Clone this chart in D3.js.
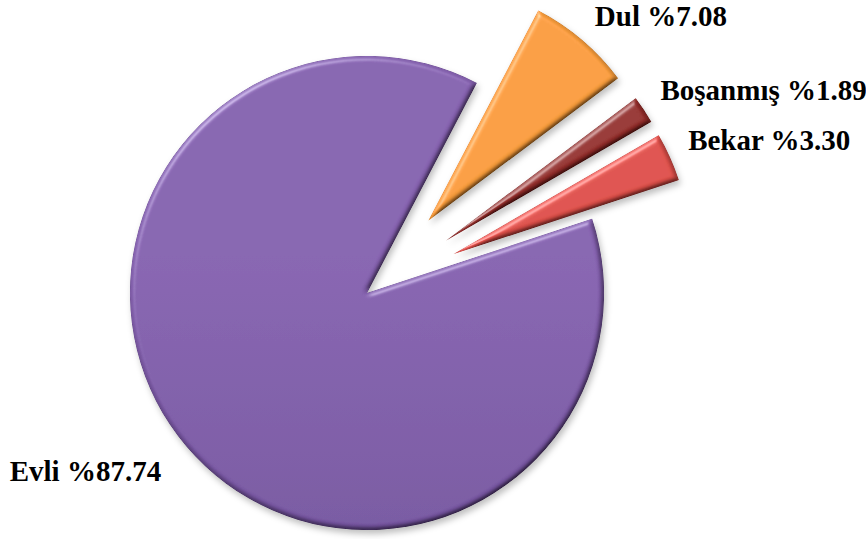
<!DOCTYPE html>
<html>
<head>
<meta charset="utf-8">
<script src="https://cdn.jsdelivr.net/npm/d3@7"></script>
<style>
  body { margin: 0; background: #fff; }
  svg { display: block; }
</style>
</head>
<body>
<svg id="chart" width="866" height="539"></svg>
<script>
// slices in clockwise order, starting from the top edge of the gap
const categories = ['Dul', 'Boşanmış', 'Bekar', 'Evli'];
const values = [7.08, 1.89, 3.30, 87.74];
const labels = ['Dul %7.08', 'Boşanmış %1.89', 'Bekar %3.30', 'Evli %87.74'];
const exploded = [true, true, true, false];

// top / bottom colour of each slice gradient
const topColors = ['#f99d3c', '#952e2b', '#de504a', '#8561af'];
const bottomColors = ['#f08a24', '#7a2321', '#c93e39', '#654790'];

const svg = d3.select('#chart');
const cx = 367;
const cy = 293;
const radius = 237;
const explodeBy = 95;
const startAngle = 27.6 * Math.PI / 180;

const defs = svg.append('defs');

categories.forEach((c, i) => {
  const g = defs.append('linearGradient')
    .attr('id', `grad${i}`)
    .attr('gradientUnits', 'userSpaceOnUse')
    .attr('x1', 0).attr('y1', cy - radius - explodeBy)
    .attr('x2', 0).attr('y2', cy + radius);
  g.append('stop').attr('offset', '0%').attr('stop-color', topColors[i]);
  g.append('stop').attr('offset', '100%').attr('stop-color', bottomColors[i]);
});

// bevel-ish lighting on the slice rims
const bevel = defs.append('filter')
  .attr('id', 'bevel')
  .attr('x', '-10%').attr('y', '-10%')
  .attr('width', '120%').attr('height', '120%');
bevel.append('feGaussianBlur')
  .attr('in', 'SourceAlpha').attr('stdDeviation', 2.5).attr('result', 'blur');
bevel.append('feDiffuseLighting')
  .attr('in', 'blur').attr('surfaceScale', 4).attr('diffuseConstant', 1)
  .attr('lighting-color', '#fff').attr('result', 'diff')
  .append('feDistantLight').attr('azimuth', 235).attr('elevation', 60);
bevel.append('feComposite')
  .attr('in', 'SourceGraphic').attr('in2', 'diff')
  .attr('operator', 'arithmetic')
  .attr('k1', 1.155).attr('k2', 0).attr('k3', 0).attr('k4', 0)
  .attr('result', 'lit');
bevel.append('feSpecularLighting')
  .attr('in', 'blur').attr('surfaceScale', 4).attr('specularConstant', 0.6)
  .attr('specularExponent', 20).attr('lighting-color', '#fff').attr('result', 'spec')
  .append('feDistantLight').attr('azimuth', 235).attr('elevation', 30);
bevel.append('feComposite')
  .attr('in', 'spec').attr('in2', 'SourceAlpha')
  .attr('operator', 'in').attr('result', 'specIn');
bevel.append('feComposite')
  .attr('in', 'lit').attr('in2', 'specIn')
  .attr('operator', 'arithmetic')
  .attr('k1', 0).attr('k2', 1).attr('k3', 0.5).attr('k4', 0);

const shadow = defs.append('filter')
  .attr('id', 'shadow')
  .attr('x', '-10%').attr('y', '-10%')
  .attr('width', '130%').attr('height', '130%');
shadow.append('feGaussianBlur').attr('stdDeviation', 3);

const data = categories.map((c, i) => ({
  category: c, value: values[i], label: labels[i], exploded: exploded[i], index: i,
}));

const pie = d3.pie()
  .sort(null)
  .value(d => d.value)
  .startAngle(startAngle)
  .endAngle(startAngle + 2 * Math.PI);

const arc = d3.arc()
  .innerRadius(0)
  .outerRadius(radius);

const arcs = pie(data);

const midAngle = d => (d.startAngle + d.endAngle) / 2;

const offset = (d) => {
  if (!d.data.exploded) return [0, 0];
  const a = midAngle(d);
  return [Math.sin(a) * explodeBy, -Math.cos(a) * explodeBy];
};

const chart = svg.append('g')
  .attr('transform', `translate(${cx}, ${cy})`);

// soft shadows first
chart.selectAll('path.shadow')
  .data(arcs)
  .join('path')
    .attr('class', 'shadow')
    .attr('transform', (d) => {
      const o = offset(d);
      return `translate(${o[0] + 2}, ${o[1] + 4})`;
    })
    .attr('d', arc)
    .attr('fill', '#000')
    .attr('fill-opacity', 0.25)
    .attr('filter', 'url(#shadow)');

chart.selectAll('path.slice')
  .data(arcs)
  .join('path')
    .attr('class', 'slice')
    .attr('transform', (d) => {
      const o = offset(d);
      return `translate(${o[0]}, ${o[1]})`;
    })
    .attr('d', arc)
    .attr('fill', d => `url(#grad${d.data.index})`)
    .attr('filter', 'url(#bevel)');

// labels: outside the exploded slices, left of the big one
const labelArcOut = 352;
const labelArcIn = 270;
const labelPos = (d) => {
  const a = midAngle(d);
  const r = d.data.exploded ? labelArcOut : labelArcIn;
  return [Math.sin(a) * r, -Math.cos(a) * r];
};

chart.selectAll('text.label')
  .data(arcs)
  .join('text')
    .attr('class', 'label')
    .attr('x', d => labelPos(d)[0])
    .attr('y', d => labelPos(d)[1])
    .attr('dy', d => (d.data.exploded ? '0.05em' : '0.45em'))
    .attr('text-anchor', d => (d.data.exploded ? 'start' : 'end'))
    .style('font-family', '"Liberation Serif", "Times New Roman", serif')
    .style('font-weight', 'bold')
    .style('font-size', '29px')
    .attr('fill', '#000')
    .text(d => d.data.label);
</script>
</body>
</html>
